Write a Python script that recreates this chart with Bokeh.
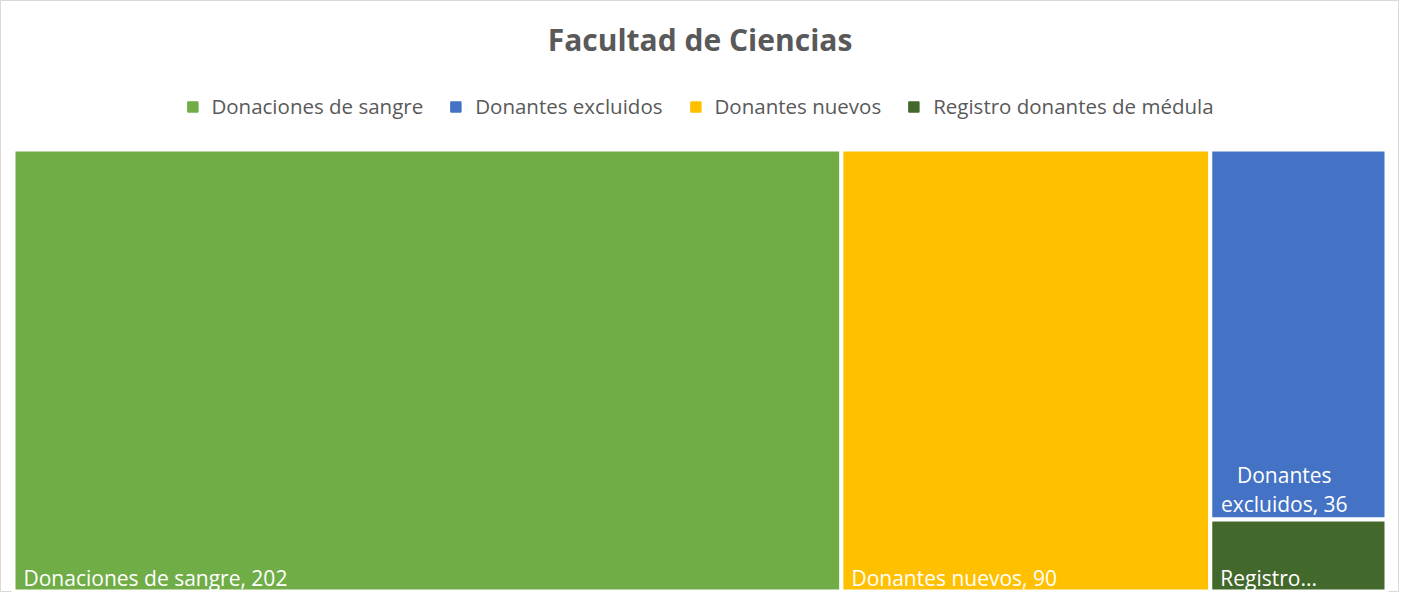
from bokeh.plotting import figure
from bokeh.models import Range1d, Label, Legend, LegendItem, ColumnDataSource
from bokeh.embed import file_html
from bokeh.resources import INLINE
from bokeh.core.properties import value

# ---- data ----
categories = ["Donaciones de sangre", "Donantes nuevos", "Donantes excluidos", "Registro donantes de médula"]
values = [202, 90, 36, 7]
colors = ["#70AD47", "#FFC000", "#4472C4", "#43682B"]
columns = [[0], [1], [2, 3]]           # treemap column grouping (indices into categories)
label_texts = ["Donaciones de sangre, 202", "Donantes nuevos, 90", "Donantes\nexcluidos, 36", "Registro..."]
legend_order = ["Donaciones de sangre", "Donantes excluidos", "Donantes nuevos", "Registro donantes de médula"]
title_text = "Facultad de Ciencias"

FONT = "Open Sans"
W, H = 1399, 592
# treemap area (figure pixel space, y up)
X0, X1 = 13, 1386
Y0, Y1 = 1, 443

p = figure(width=W, height=H, output_backend="svg", toolbar_location=None,
           x_range=Range1d(0, W), y_range=Range1d(0, H), min_border=0)
p.axis.visible = False
p.grid.visible = False
p.outline_line_color = "#D9D9D9"
p.outline_line_width = 1
p.background_fill_color = "white"
p.border_fill_color = "white"

total = sum(values)
n = len(values)
lefts = [0.0] * n; rights = [0.0] * n; tops = [0.0] * n; bottoms = [0.0] * n
cx = X0
for col in columns:
    csum = sum(values[i] for i in col)
    cw = (X1 - X0) * csum / total
    cy = Y1
    for i in col:
        h = (Y1 - Y0) * values[i] / csum
        lefts[i], rights[i], tops[i], bottoms[i] = cx, cx + cw, cy, cy - h
        cy -= h
    cx += cw

src = ColumnDataSource(dict(left=lefts, right=rights, top=tops, bottom=bottoms,
                            color=colors, name=categories))
p.quad(left="left", right="right", top="top", bottom="bottom", source=src,
       fill_color="color", line_color="white", line_width=4)

# data labels
LBL_SIZE = "21px"
for i, txt in enumerate(label_texts):
    lines = txt.split("\n")
    if len(lines) > 1:
        nl = len(lines)
        for k, ln in enumerate(lines):
            p.text(x=[lefts[i] + 74], y=[bottoms[i] + 16 + 29 * (nl - 1 - k)], text=[ln],
                   text_align="center", text_baseline="alphabetic", text_color="white",
                   text_font=value(FONT), text_font_size=LBL_SIZE)
    else:
        p.text(x=[lefts[i] + 10], y=[bottoms[i] + 14], text=[txt], text_align="left",
               text_baseline="alphabetic", text_color="white", text_font=value(FONT),
               text_font_size=LBL_SIZE)

# legend
items = []
for name in legend_order:
    i = categories.index(name)
    r = p.rect(x=[-100], y=[-100], width=1, height=1,
               fill_color=colors[i], line_color=colors[i])
    items.append(LegendItem(label=name, renderers=[r]))
legend = Legend(items=items, orientation="horizontal", location="top_center",
                background_fill_alpha=0, border_line_alpha=0,
                label_text_font=FONT, label_text_font_size="20.5px",
                label_text_color="#595959", glyph_width=13, glyph_height=13,
                spacing=26, label_standoff=13, padding=0, margin=92)
p.add_layout(legend)

p.add_layout(Label(x=W / 2, y=H - 39, x_units="screen", y_units="screen",
                   text=title_text, text_align="center", text_baseline="middle",
                   text_font=FONT, text_font_style="bold", text_font_size="30px",
                   text_color="#595959"))

open("out.html", "w").write(file_html(p, INLINE))
